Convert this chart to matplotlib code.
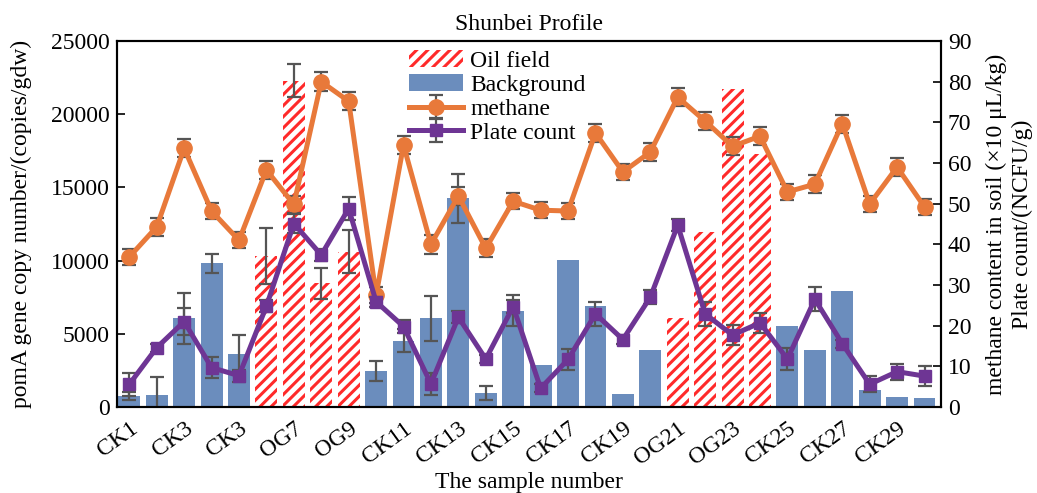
import matplotlib
matplotlib.use("Agg")
import matplotlib.pyplot as plt
import numpy as np

plt.rcParams['font.family'] = ['Liberation Serif', 'DejaVu Serif']
plt.rcParams['hatch.linewidth'] = 2.2
plt.rcParams['mathtext.fontset'] = 'stix'

samples = ['CK1', 'CK2', 'CK3', 'CK4', 'CK5', 'OG6', 'OG7', 'OG8', 'OG9', 'CK10',
           'CK11', 'CK12', 'CK13', 'CK14', 'CK15', 'CK16', 'CK17', 'CK18', 'CK19', 'CK20',
           'OG21', 'OG22', 'OG23', 'OG24', 'CK25', 'CK26', 'CK27', 'CK28', 'CK29', 'CK30']
tick_labels = ['CK1', 'CK3', 'CK3', 'OG7', 'OG9', 'CK11', 'CK13', 'CK15', 'CK17', 'CK19',
               'OG21', 'OG23', 'CK25', 'CK27', 'CK29']
is_oil = [0, 0, 0, 0, 0, 1, 1, 1, 1, 0,
          0, 0, 0, 0, 0, 0, 0, 0, 0, 0,
          1, 1, 1, 1, 0, 0, 0, 0, 0, 0]
pomA = [750, 850, 6060, 9810, 3650, 10310, 22300, 8450, 10610, 2460,
        4530, 6060, 14250, 935, 6580, 2900, 10040, 6920, 890, 3890,
        6060, 11980, 21700, 17280, 5530, 3890, 7920, 1160, 700, 640]
pomA_err = [300, 1230, 1750, 650, 1280, 1900, 1120, 1080, 1480, 700,
            800, 1530, 1650, 470, 1050, 0, 0, 0, 0, 0,
            0, 0, 0, 0, 0, 0, 0, 0, 0, 0]
methane = [36.9, 44.3, 63.6, 48.2, 41.0, 58.3, 49.8, 80.0, 75.2, 27.5,
           64.4, 40.0, 51.9, 39.0, 50.6, 48.4, 48.2, 67.4, 57.8, 62.7,
           76.2, 70.3, 64.1, 66.6, 52.9, 54.8, 69.7, 49.9, 59.0, 49.2]
methane_err = [2.0, 2.2, 2.2, 2.0, 2.0, 2.3, 2.0, 2.3, 2.2, 2.0,
               2.2, 2.4, 2.2, 2.2, 2.0, 2.0, 2.0, 2.2, 2.0, 2.2,
               2.3, 2.2, 2.2, 2.2, 2.0, 2.2, 2.2, 2.0, 2.2, 2.0]
plate = [5.6, 14.6, 21.0, 9.7, 7.7, 24.8, 45.1, 37.4, 48.8, 25.9,
         19.8, 5.7, 22.1, 11.8, 24.7, 4.6, 11.7, 22.9, 16.6, 27.0,
         44.7, 22.9, 17.7, 20.7, 11.8, 26.5, 15.6, 5.6, 8.7, 7.6]
plate_err = [2.8, 1.0, 3.3, 2.5, 1.5, 1.5, 2.3, 1.5, 2.9, 1.2,
             1.5, 2.7, 1.5, 1.0, 1.5, 1.0, 2.5, 2.9, 1.0, 1.7,
             1.5, 3.0, 2.5, 2.5, 2.7, 2.9, 1.0, 2.0, 2.0, 2.5]

blue = '#6b8dbd'
red = '#ff2a2a'
orange = '#e8793a'
purple = '#6e3594'
errc = '#555555'
fs = 17

fig = plt.figure(figsize=(10.37, 4.93), dpi=100)
ax = fig.add_axes([0.1128, 0.1744, 0.7946, 0.7424])
ax2 = ax.twinx()

x = np.arange(len(samples))
pomA = np.array(pomA, dtype=float)
oil = np.array(is_oil, dtype=bool)
w = 0.8

ax.bar(x[oil], pomA[oil], width=w, facecolor='white', edgecolor=red,
       hatch='///', linewidth=0, label='Oil field', zorder=2)
ax.bar(x[~oil], pomA[~oil], width=w, color=blue, linewidth=0,
       label='Background', zorder=2)
perr = np.array(pomA_err, dtype=float)
has = perr > 0
ax.errorbar(x[has], pomA[has], yerr=perr[has], fmt='none', ecolor=errc,
            elinewidth=1.6, capsize=5, capthick=1.6, zorder=3)

ax2.errorbar(x, methane, yerr=methane_err, color=orange, lw=3.6, marker='o',
             markersize=11, ecolor=errc, elinewidth=1.6, capsize=5, capthick=1.6,
             label='methane', zorder=4)
ax2.errorbar(x, plate, yerr=plate_err, color=purple, lw=3.6, marker='s',
             markersize=9, ecolor=errc, elinewidth=1.6, capsize=5, capthick=1.6,
             label='Plate count', zorder=5)

ax.set_xlim(-0.45, 29.6)
ax.set_ylim(0, 25000)
ax2.set_ylim(0, 90)
ax.set_yticks(np.arange(0, 25001, 5000))
ax2.set_yticks(np.arange(0, 91, 10))
ax.set_xticks(x)
ax.set_xticklabels([tick_labels[i // 2] if i % 2 == 0 else '' for i in x],
                   rotation=36, ha='right', rotation_mode='anchor', fontsize=fs)
ax.tick_params(axis='x', direction='in', length=4, width=1.5, pad=8)
ax.tick_params(axis='y', direction='in', length=6, width=1.2, labelsize=fs, pad=5)
ax2.tick_params(axis='y', direction='in', length=6, width=1.2, labelsize=fs, pad=5)
for a in (ax, ax2):
    for s in a.spines.values():
        s.set_linewidth(1.5)

ax.set_ylabel('pomA gene copy number/(copies/gdw)', fontsize=fs, labelpad=14)
ax2.set_ylabel('methane content in soil (×10 μL/kg)\nPlate count/(NCFU/g)',
               fontsize=fs, labelpad=10, linespacing=1.3)
ax.set_xlabel('The sample number', fontsize=fs, labelpad=2)
ax.set_title('Shunbei Profile', fontsize=fs, pad=8)

h1, l1 = ax.get_legend_handles_labels()
h2, l2 = ax2.get_legend_handles_labels()
leg = ax2.legend(h1 + h2, l1 + l2, loc='upper left', bbox_to_anchor=(0.343, 1.0),
                 frameon=False, fontsize=fs, handlelength=2.3, labelspacing=0.1,
                 handletextpad=0.3, borderaxespad=0)

fig.savefig('out.png', dpi=100)
